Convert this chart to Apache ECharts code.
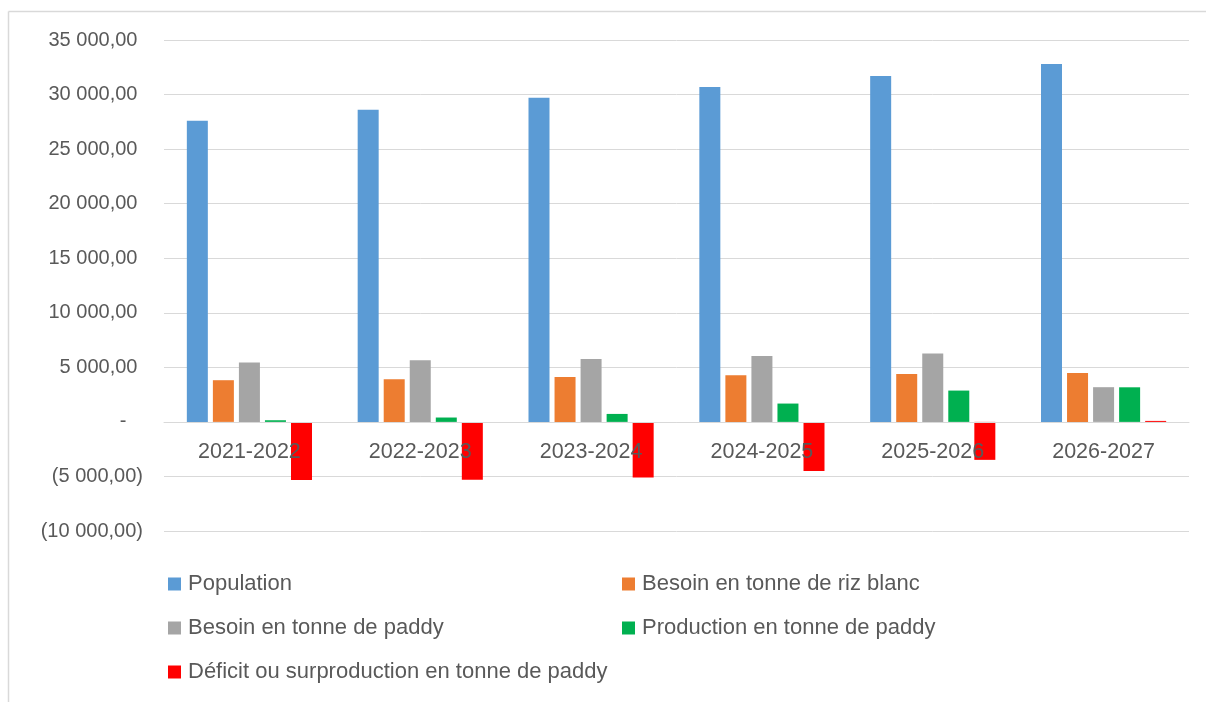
<!DOCTYPE html>
<html><head><meta charset="utf-8">
<script src="https://cdn.jsdelivr.net/npm/echarts@6/dist/echarts.min.js"></script>
<style>html,body{margin:0;padding:0;background:#fff}#c{width:1206px;height:702px}</style>
</head><body><div id="c"></div>
<script>
const categories = ['2021-2022','2022-2023','2023-2024','2024-2025','2025-2026','2026-2027'];
const population = [27600, 28600, 29700, 30700, 31700, 32800];
const besoinRiz = [3820, 3910, 4120, 4280, 4390, 4490];
const besoinPaddy = [5440, 5650, 5770, 6050, 6260, 3180];
const production = [150, 400, 730, 1680, 2870, 3170];
const deficit = [-5330, -5300, -5100, -4500, -3480, 90];
const seriesNames = ['Population','Besoin en tonne de riz blanc','Besoin en tonne de paddy','Production en tonne de paddy','Déficit ou surproduction en tonne de paddy'];
const colors = ['#5B9BD5','#ED7D31','#A5A5A5','#00B050','#FF0000'];

const FONT = 'Liberation Sans';
function fmt(v){
  if (v === 0) return '-   ';
  const a = Math.abs(v).toFixed(2).split('.');
  const s = a[0].replace(/\B(?=(\d{3})+(?!\d))/g, ' ') + ',' + a[1];
  return v < 0 ? '(' + s + ')' : s + ' ';
}
const chart = echarts.init(document.getElementById('c'));
const data = [population, besoinRiz, besoinPaddy, production, deficit];
const legendPos = [[168,584],[622,584],[168,628],[622,628],[168,672]];
const gridTop = 40, gridBottomY = 531, yMin = -10000, yMax = 35000;
const zeroY = gridTop + (gridBottomY - gridTop) * yMax / (yMax - yMin);
chart.setOption({
  animation:false,
  color: colors,
  textStyle:{fontFamily:FONT},
  grid:{left:164, right:17, top:gridTop, bottom:702-gridBottomY, containLabel:false},
  legend: seriesNames.map((n,i)=>({
    data:[n], left:legendPos[i][0], top:legendPos[i][1]-12, icon:'rect', itemWidth:13, itemHeight:13, itemGap:4,
    padding:0,
    textStyle:{fontSize:22, color:'#595959', fontFamily:FONT, padding:[0,0,0,2], lineHeight:24}, selectedMode:false
  })),
  xAxis:{type:'category', data:categories, z:5,
    axisLine:{onZero:false, lineStyle:{color:'#d9d9d9', width:1}},
    offset: -(gridBottomY - zeroY),
    axisTick:{show:false},
    axisLabel:{color:'#595959', fontSize:21.5, margin:19, fontFamily:FONT}},
  yAxis:{type:'value', min:yMin, max:yMax, interval:5000,
    axisLine:{show:false}, axisTick:{show:false},
    splitLine:{lineStyle:{color:'#d9d9d9', width:1}},
    axisLabel:{color:'#595959', fontSize:20, margin:21, formatter:fmt, fontFamily:FONT}},
  series: seriesNames.map((n,i)=>({
    name:n, type:'bar', data:data[i], barWidth:21, barGap:'24%',
    itemStyle:{color:colors[i]}
  })),
  graphic:[
    {type:'line', shape:{x1:8.5,y1:11.5,x2:1206,y2:11.5}, style:{stroke:'#d9d9d9', lineWidth:1.5}, silent:true},
    {type:'line', shape:{x1:8.5,y1:11.5,x2:8.5,y2:702}, style:{stroke:'#d9d9d9', lineWidth:1.5}, silent:true}
  ]
});
</script></body></html>
